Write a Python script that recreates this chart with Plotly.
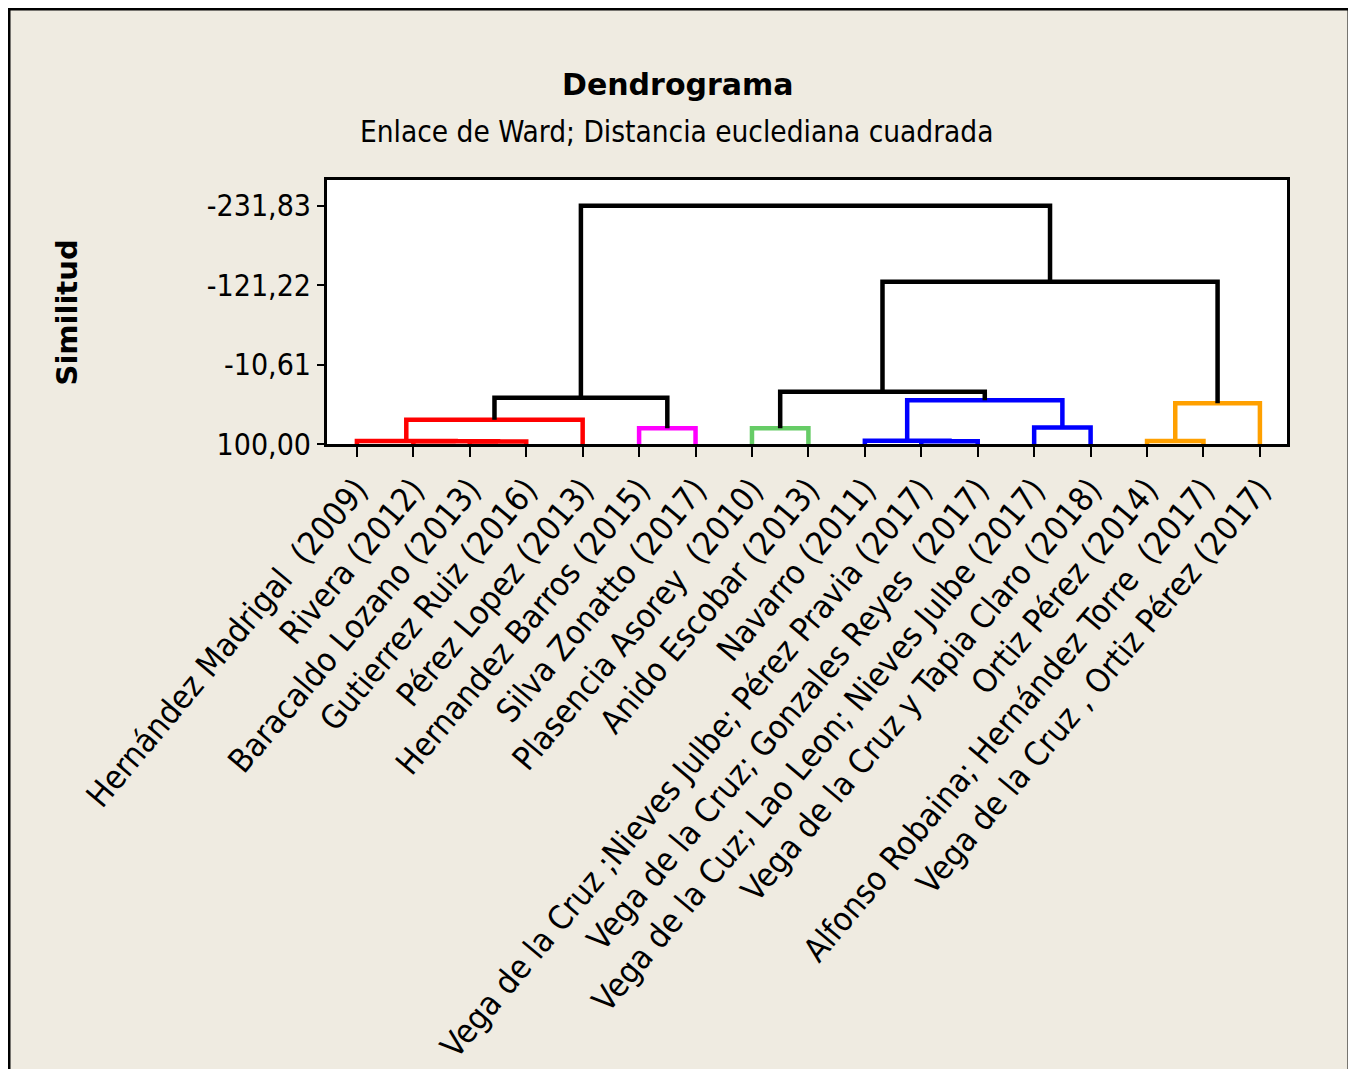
import plotly.graph_objects as go

# ---------------- data ----------------
leaf_labels = [
    "Hernández Madrigal\u00a0 (2009)",
    "Rivera (2012)",
    "Baracaldo Lozano (2013)",
    "Gutierrez Ruiz (2016)",
    "Pérez Lopez (2013)",
    "Hernandez Barros (2015)",
    "Silva Zonatto (2017)",
    "Plasencia Asorey\u00a0 (2010)",
    "Anido Escobar (2013)",
    "Navarro (2011)",
    "Vega de la Cruz ;Nieves Julbe; Pérez Pravia (2017)",
    "Vega de la Cruz; Gonzales Reyes\u00a0 (2017)",
    "Vega de la Cuz; Lao Leon; Nieves Julbe (2017)",
    "Vega de la Cruz y Tapia Claro (2018)",
    "Ortiz Pérez (2014)",
    "Alfonso Robaina; Hernández Torre\u00a0 (2017)",
    "Vega de la Cruz , Ortiz Pérez (2017)",
]

# merges: leaves are 1..17, new clusters are numbered 18, 19, ... in order
merge_left  = [3, 2, 1, 20, 6, 21, 8, 11, 10, 13, 26, 24, 15, 30, 29, 23]
merge_right = [4, 18, 19, 5, 7, 22, 9, 12, 25, 14, 27, 28, 16, 17, 31, 32]
merge_sim   = [96.6, 96.2, 95.8, 66.3, 77.9, 35.4, 77.9, 96.2, 95.6, 76.9, 39.2, 27.1, 95.8, 43.3, -125.9, -231.83]
merge_color = ["red", "red", "red", "red", "magenta", "black", "green", "blue", "blue",
               "blue", "blue", "black", "orange", "orange", "black", "black"]

y_tickvals = [100.00, -10.61, -121.22, -231.83]
y_ticktext = ["100,00", "-10,61", "-121,22", "-231,83"]

color_map = {
    "red": "#FF0000",
    "magenta": "#FF00FF",
    "green": "#66CC66",
    "blue": "#0000FF",
    "orange": "#FFA000",
    "black": "#000000",
}

# ---------------- build dendrogram geometry ----------------
n = len(leaf_labels)
node_x = {i: float(i) for i in range(1, n + 1)}
node_y = {i: 100.0 for i in range(1, n + 1)}

segs = {k: ([], []) for k in color_map}
for k, (a, b, s, c) in enumerate(zip(merge_left, merge_right, merge_sim, merge_color)):
    nid = n + 1 + k
    xa, ya, xb, yb = node_x[a], node_y[a], node_x[b], node_y[b]
    xs, ys = segs[c]
    xs += [xa, xa, xb, xb, None]
    ys += [ya, s, s, yb, None]
    node_x[nid] = (xa + xb) / 2.0
    node_y[nid] = s

fig = go.Figure()
for c in ["red", "magenta", "green", "blue", "orange", "black"]:
    xs, ys = segs[c]
    fig.add_trace(go.Scatter(
        x=xs, y=ys, mode="lines",
        line=dict(color=color_map[c], width=4.5),
        hoverinfo="skip", showlegend=False,
    ))

BG = "#EFEBE1"
COND = "DejaVu Sans Condensed, DejaVu Sans, sans-serif"

# page offset of the figure inside the browser (body margin)
OFF = 8
PL, PT, PW, PH = 327 - OFF, 180 - OFF, 960.0, 267.0
PB = PT + PH

fig.update_layout(
    width=1356, height=1069,
    margin=dict(l=PL, r=1356 - PL - int(PW), t=PT, b=1069 - PT - int(PH)),
    paper_bgcolor=BG,
    plot_bgcolor="#FFFFFF",
    showlegend=False,
    font=dict(family=COND, color="#000000"),
)

fig.update_xaxes(
    range=[0.47, 17.48],
    tickmode="array",
    tickvals=list(range(1, n + 1)),
    ticktext=leaf_labels,
    tickangle=-50,
    tickfont=dict(family=COND, size=33, color="#000000"),
    ticks="outside", ticklen=10, tickwidth=2, tickcolor="#000000",
    showline=True, linecolor="#000000", linewidth=3, mirror=True,
    showgrid=False, zeroline=False,
)
fig.update_yaxes(
    range=[100, -267.8],
    tickmode="array",
    tickvals=y_tickvals,
    ticktext=y_ticktext,
    tickfont=dict(family=COND, size=30, color="#000000"),
    ticks="outside", ticklen=7, tickwidth=2, tickcolor="#000000",
    showline=True, linecolor="#000000", linewidth=3, mirror=True,
    showgrid=False, zeroline=False,
)

# helpers: screen pixel -> paper coordinate
def px(x):
    return (x - OFF - PL) / PW
def py(y):
    return (PB - (y - OFF)) / PH

fig.add_annotation(
    text="<b>Dendrograma</b>", xref="paper", yref="paper",
    x=px(678), y=py(83), xanchor="center", yanchor="middle", showarrow=False,
    font=dict(family="DejaVu Sans, sans-serif", size=30, color="#000000"),
)
fig.add_annotation(
    text="Enlace de Ward; Distancia euclediana cuadrada", xref="paper", yref="paper",
    x=px(677), y=py(131), xanchor="center", yanchor="middle", showarrow=False,
    font=dict(family=COND, size=29.5, color="#000000"),
)
fig.add_annotation(
    text="<b>Similitud</b>", xref="paper", yref="paper",
    x=px(67), y=py(314), xanchor="center", yanchor="middle", showarrow=False,
    textangle=-90,
    font=dict(family="DejaVu Sans, sans-serif", size=29, color="#000000"),
)

# outer frame
fig.add_shape(
    type="rect", xref="paper", yref="paper",
    x0=px(9), x1=px(1349), y0=py(1090), y1=py(7),
    line=dict(color="#000000", width=3), fillcolor="rgba(0,0,0,0)", layer="below",
)

fig.write_html("out.html")
